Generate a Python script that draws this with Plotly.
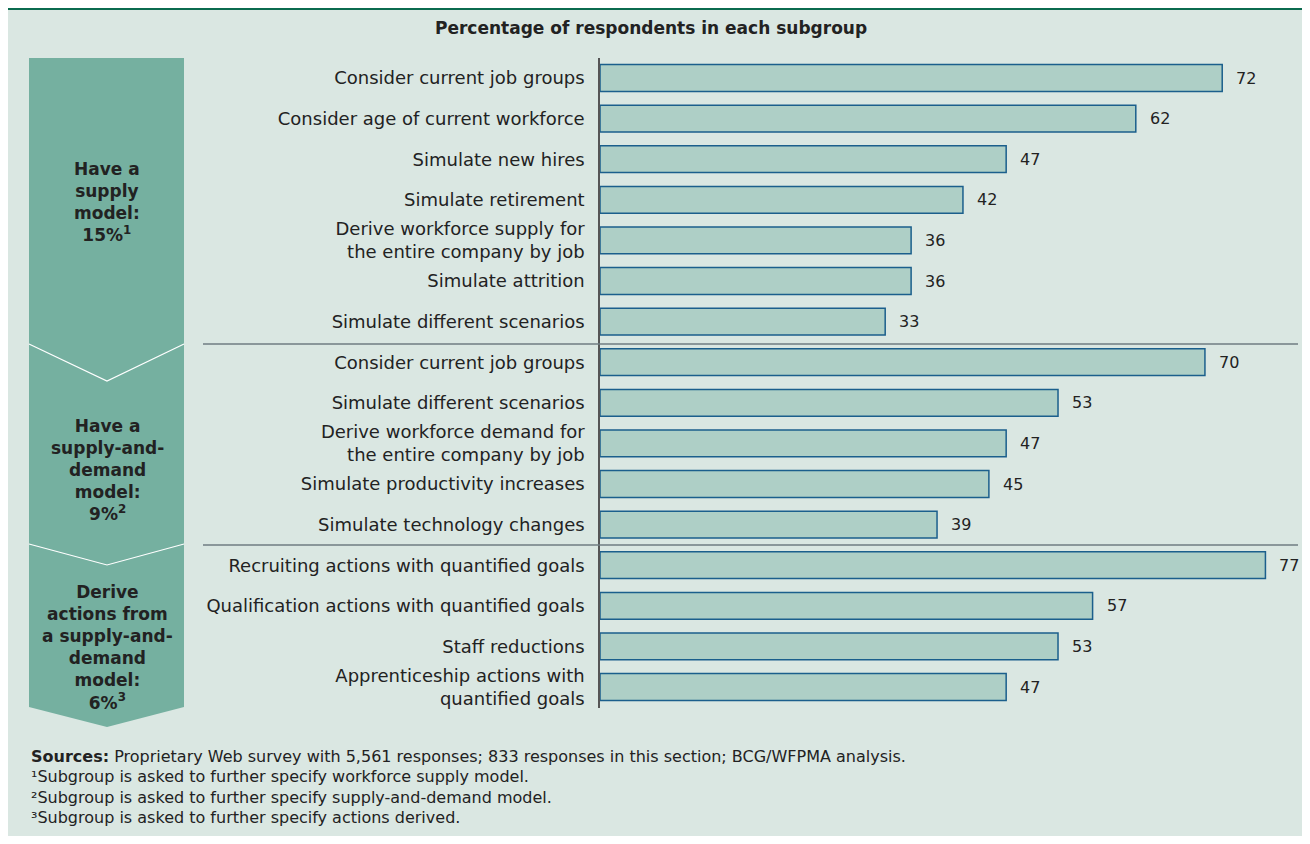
import plotly.graph_objects as go

# page is drawn with an 8px body margin, so the figure is shifted by OFF
OFF = 8
W, H = 1310 - 2 * OFF, 844 - 2 * OFF

categories = [
    "Consider current job groups",
    "Consider age of current workforce",
    "Simulate new hires",
    "Simulate retirement",
    "Derive workforce supply for<br>the entire company by job",
    "Simulate attrition",
    "Simulate different scenarios",
    "Consider current job groups",
    "Simulate different scenarios",
    "Derive workforce demand for<br>the entire company by job",
    "Simulate productivity increases",
    "Simulate technology changes",
    "Recruiting actions with quantified goals",
    "Qualification actions with quantified goals",
    "Staff reductions",
    "Apprenticeship actions with<br>quantified goals",
]
values = [72, 62, 47, 42, 36, 36, 33, 70, 53, 47, 45, 39, 77, 57, 53, 47]

group_labels = [
    "<b>Have a<br>supply<br>model:<br>15%<sup>1</sup></b>",
    "<b>Have a<br>supply-and-<br>demand<br>model:<br>9%<sup>2</sup></b>",
    "<b>Derive<br>actions from<br>a supply-and-<br>demand<br>model:<br>6%<sup>3</sup></b>",
]

title_text = "<b>Percentage of respondents in each subgroup</b>"
footnotes = [
    "<b>Sources:</b> Proprietary Web survey with 5,561 responses; 833 responses in this section; BCG/WFPMA analysis.",
    "¹Subgroup is asked to further specify workforce supply model.",
    "²Subgroup is asked to further specify supply-and-demand model.",
    "³Subgroup is asked to further specify actions derived.",
]

FONT = "DejaVu Sans"
BG = "#dae7e2"
TXT = "#222222"


def px(x):
    return (x - OFF) / W


def py(y):
    return 1 - (y - OFF) / H


ypos = list(range(len(values)))

fig = go.Figure()
fig.add_trace(go.Bar(
    x=values, y=ypos, orientation="h",
    marker=dict(color="#aecfc6", line=dict(color="#1b5f8c", width=1.5)),
    width=0.66, hoverinfo="skip",
))

annotations = []
for i, v in zip(ypos, values):
    annotations.append(dict(x=v, y=i, xref="x", yref="y", text=str(v), showarrow=False,
                            xanchor="left", yanchor="middle", xshift=12,
                            font=dict(family=FONT, size=16, color=TXT)))

annotations.append(dict(x=px(651), y=py(28), xref="paper", yref="paper", text=title_text,
                        showarrow=False, xanchor="center", yanchor="middle",
                        font=dict(family=FONT, size=17, color=TXT)))

group_centers = [202, 470, 647]
for lab, cy in zip(group_labels, group_centers):
    annotations.append(dict(x=px(107), y=py(cy), xref="paper", yref="paper", text=lab,
                            showarrow=False, xanchor="center", yanchor="middle",
                            align="center",
                            font=dict(family=FONT, size=17, color=TXT)))

for k, t in enumerate(footnotes):
    annotations.append(dict(x=px(29), y=py(756 + k * 20.5), xref="paper", yref="paper", text=t,
                            showarrow=False, xanchor="left", yanchor="middle", align="left",
                            font=dict(family=FONT, size=16, color=TXT)))


def path(points, close=True):
    s = "M " + " L ".join(f"{px(x)},{py(y)}" for x, y in points)
    return s + (" Z" if close else "")


shapes = [
    dict(type="rect", xref="paper", yref="paper", x0=0, x1=1, y0=py(10), y1=1,
         fillcolor="#0b6b4f", line=dict(width=0), layer="below"),
    dict(type="path", xref="paper", yref="paper",
         path=path([(29, 58), (184, 58), (184, 707), (107, 727), (29, 707)]),
         fillcolor="#75b0a0", line=dict(width=0), layer="below"),
    dict(type="path", xref="paper", yref="paper",
         path=path([(29, 344), (107, 381), (184, 344)], close=False),
         line=dict(color="white", width=1.2)),
    dict(type="path", xref="paper", yref="paper",
         path=path([(29, 544), (107, 565), (184, 544)], close=False),
         line=dict(color="white", width=1.2)),
    dict(type="line", xref="paper", yref="paper", x0=px(203), x1=px(1298), y0=py(344), y1=py(344),
         line=dict(color="#6f7c82", width=1.5)),
    dict(type="line", xref="paper", yref="paper", x0=px(203), x1=px(1298), y0=py(545), y1=py(545),
         line=dict(color="#6f7c82", width=1.5)),
]

pitch = 40.6
y_top_px, y_bot_px = 58, 708
r_top = (y_top_px - 78) / pitch
r_bot = (y_bot_px - 78) / pitch

fig.update_layout(
    width=W, height=H, autosize=False,
    margin=dict(l=0, r=0, t=0, b=0),
    paper_bgcolor=BG, plot_bgcolor=BG,
    showlegend=False,
    xaxis=dict(domain=[px(600), px(1300)], range=[0, 81], visible=False, fixedrange=True),
    yaxis=dict(domain=[py(y_bot_px), py(y_top_px)], range=[r_bot, r_top],
               tickmode="array", tickvals=ypos, ticktext=categories,
               showline=True, linecolor="#555555", linewidth=1.5,
               showgrid=False, zeroline=False, ticks="", ticklabelstandoff=10,
               tickfont=dict(family=FONT, size=18, color=TXT), fixedrange=True),
    annotations=annotations,
    shapes=shapes,
)

fig.write_html("out.html")
